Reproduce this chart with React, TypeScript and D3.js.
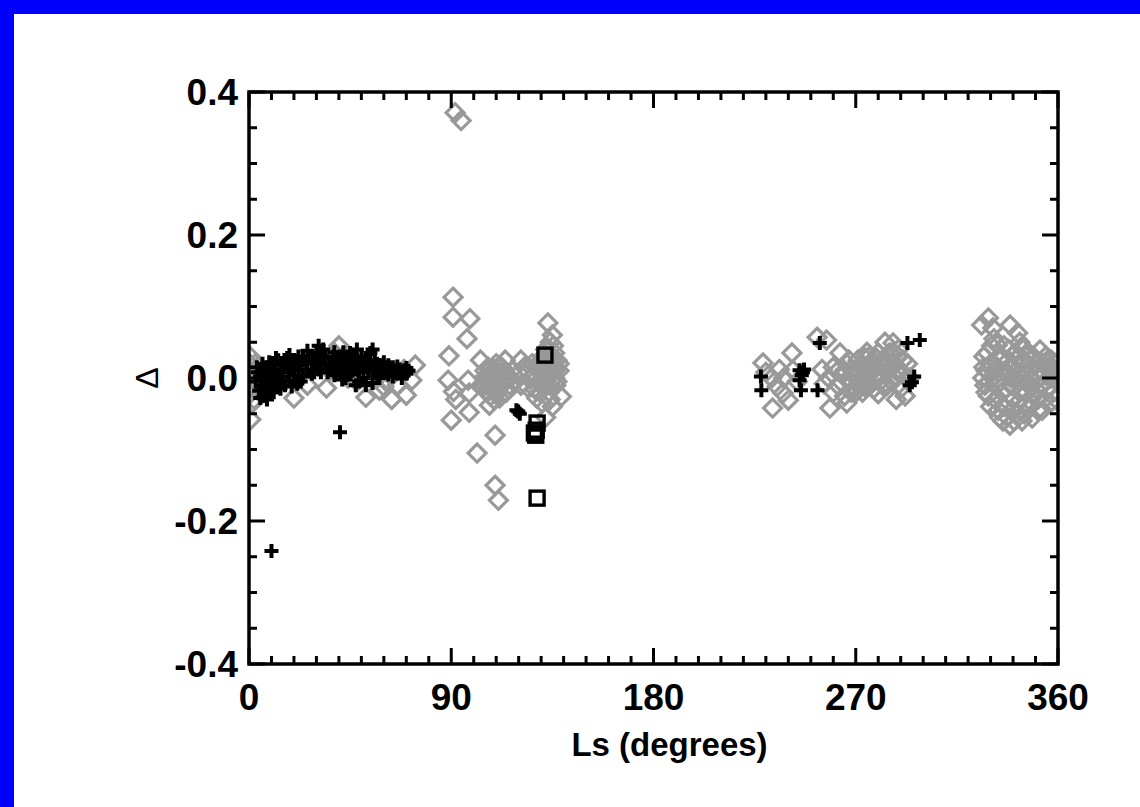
import React from "react";
import * as d3 from "d3";

// ---- data (Ls in degrees, Δ) ----
const diamondsLs: number[] = [
  0.5, 1, 0.8, 1.2, 0.5, 1.5, 0.8, 2, 2.5, 1.8, 3, 2.2, 3.5,
  20, 34.5, 40, 38, 42, 36, 52, 58, 60, 63.5, 66, 70, 72.5, 74, 69, 64, 61, 57, 15, 26, 44, 48,
  91.7, 94.4,
  90.8, 90.8, 98.3, 97, 89, 88.6, 91, 92, 97.5, 98, 98, 90, 103, 104, 107, 109.5, 101.5, 109.5, 111,
  105, 106, 107, 108, 108.5, 109, 110, 110.5, 111, 112, 112.5, 113, 107.5, 109, 111.5, 106, 104.5,
  114, 115, 116, 117, 118, 120, 122.5, 124, 121, 121,
  133, 135, 134, 132,
  126, 127, 128, 129, 130, 131, 132, 133, 134, 135, 136, 137, 138, 136.5, 129.5, 127, 133.5, 131,
  139, 135, 132, 128, 125, 130.5, 134,
  105, 106.5, 108, 109.5, 110, 111, 112, 113.5, 114.5, 128, 129, 130, 131, 132, 133, 134, 135, 136, 137, 138, 136, 135.5,
  228.7, 232.6, 241.6, 242, 233, 237.6, 240, 235, 230, 238, 244, 236,
  252.8, 257, 255, 258.5, 256, 263, 260, 262,
  258, 260, 262, 264, 265, 266, 267, 268, 269, 270, 271, 272, 273, 274, 275, 275.5, 276, 277, 278, 279,
  280, 281, 282, 283, 283.5, 284, 285, 286, 286.6, 287, 288, 289, 290, 291, 292, 293, 294, 266, 270, 288, 280, 276,
  265, 267, 268, 270, 271, 272, 273, 274, 275, 277, 278, 279, 280, 281, 282, 284, 285, 287, 288, 289, 290, 291,
  326, 329, 331, 338.7, 342, 343, 333, 327, 328, 327.5, 329, 330, 331, 332, 333, 334, 334.5, 335, 336, 336.5,
  337, 338, 338.6, 339, 340, 341, 341.5, 342, 343, 343.5, 344, 345, 345.5, 346, 347, 348, 348.5, 349, 350, 351,
  352, 352.5, 353, 354, 355, 356, 357, 358, 358.5, 359.5, 330.5, 335.5, 344.5, 339.5,
  328.5, 330, 331.5, 332, 333.5, 334, 335, 336, 337, 337.5, 338, 339, 340, 340.5, 341, 342, 342.5, 343, 344, 345,
  345, 346, 347, 347.5, 348, 349, 350, 350.5, 351, 352, 353, 354, 354.5, 355, 356, 356.5, 357, 358, 359, 359,
  326.5, 327, 328, 329.5,
];
const diamondsDelta: number[] = [
  0.03, 0.018, 0.005, -0.01, -0.022, -0.035, -0.058, 0.01, -0.005, -0.015, 0.02, -0.03, 0.0,
  -0.028, -0.014, 0.045, 0.035, 0.03, 0.01, -0.027, -0.017, -0.012, -0.03, -0.01, -0.024, -0.003, 0.018, 0.012, 0.005, -0.005, 0.0, 0.0, -0.01, 0.0, -0.005,
  0.371, 0.36,
  0.113, 0.085, 0.083, 0.055, 0.031, -0.003, -0.019, -0.03, -0.003, -0.021, -0.048, -0.059, 0.025, -0.013, -0.038, -0.08, -0.105, -0.15, -0.171,
  0.01, 0.0, -0.01, 0.005, -0.015, 0.012, -0.005, -0.02, 0.008, -0.01, 0.015, -0.003, -0.025, -0.03, -0.028, -0.02, 0.0,
  0.025, 0.0, -0.01, 0.01, -0.005, 0.007, 0.015, -0.013, -0.01, 0.025,
  0.077, 0.06, 0.05, 0.04,
  0.02, 0.005, 0.015, -0.005, 0.025, 0.01, -0.01, 0.02, 0.005, 0.015, 0.0, 0.025, 0.01, -0.01, -0.02, -0.015, -0.02, 0.03,
  -0.026, -0.04, -0.055, -0.028, -0.002, -0.035, -0.03,
  -0.01, 0.015, -0.005, 0.0, 0.02, -0.015, 0.0, 0.01, -0.02, 0.0, 0.02, -0.01, 0.015, 0.005, 0.03, -0.01, 0.025, 0.01, -0.005, 0.02, 0.035, 0.045,
  0.021, 0.0, 0.035, 0.011, -0.042, -0.021, -0.031, -0.012, 0.008, 0.0, -0.005, 0.012,
  0.057, 0.053, 0.012, -0.042, -0.008, 0.035, -0.02, 0.01,
  0.0, 0.015, -0.01, 0.005, -0.025, 0.02, -0.005, 0.012, -0.015, 0.008, 0.025, -0.002, 0.015, -0.012, 0.036, 0.005, 0.02, -0.008, 0.012, 0.028,
  0.0, 0.018, -0.01, 0.05, 0.025, 0.008, 0.035, -0.005, 0.049, 0.02, 0.01, 0.03, -0.015, 0.005, -0.025, 0.02, 0.0, -0.035, -0.02, -0.03, -0.022, 0.03,
  0.01, 0.025, -0.02, 0.0, -0.01, 0.018, -0.02, 0.028, -0.005, 0.02, -0.015, 0.005, 0.035, -0.005, 0.025, -0.01, 0.015, 0.035, 0.0, 0.04, 0.01, 0.025,
  0.074, 0.084, 0.07, 0.074, 0.063, 0.05, 0.046, 0.03, 0.01, -0.01, -0.025, 0.02, 0.0, -0.03, 0.015, -0.055, -0.005, 0.03, -0.04, 0.01,
  -0.015, 0.025, -0.066, 0.0, -0.03, 0.035, -0.05, 0.005, -0.02, 0.022, -0.06, 0.0, -0.035, 0.03, -0.01, 0.015, -0.056, -0.025, 0.005, -0.045,
  0.039, -0.01, 0.02, -0.03, 0.023, 0.0, 0.0, -0.02, 0.01, -0.005, 0.045, -0.06, 0.04, -0.045,
  0.035, -0.04, 0.055, 0.01, -0.045, 0.025, -0.02, 0.045, 0.005, -0.055, 0.04, -0.01, 0.015, -0.06, 0.0, -0.035, 0.03, -0.005, 0.01, 0.025,
  -0.05, -0.02, 0.035, -0.04, 0.0, 0.03, -0.015, 0.02, -0.03, 0.01, -0.045, 0.005, 0.03, -0.015, 0.015, -0.035, 0.025, 0.005, -0.03, 0.02,
  0.0, 0.015, -0.02, -0.005,
];

const plusLs: number[] = [
  40.5, 10,
  3, 4, 4.5, 5, 5.5, 6, 6.5, 7, 7.5, 8, 8.5, 9, 9.5, 10, 10.5, 11, 11.5, 12, 12.5, 13, 13.5, 14, 15, 15.5, 16,
  17, 17.5, 18, 19, 20, 21, 21.5, 22, 23, 24, 25, 26, 27, 28, 29, 30, 31, 32, 33, 34, 35, 37, 37.5, 38, 39,
  40, 41, 41.5, 42, 43, 44, 45, 46, 47, 47.5, 48, 49, 50, 51, 52, 53, 54, 55, 55.5, 56, 57, 58, 59, 60, 61,
  62, 63, 64, 65, 66, 67, 68, 69, 70,
  3.5, 5, 6, 8, 9, 11, 12, 14, 16, 18, 19, 20, 22, 23, 24, 26, 28, 29, 30, 31, 32, 33, 34, 36,
  38, 39, 40, 42, 43, 44, 45, 46, 48, 49, 50, 51, 52, 53, 55, 57, 58, 60, 62, 64, 66, 68, 70, 71,
  119, 120.5, 119.8,
  227.8, 228, 245, 247, 245, 246, 245.6, 253, 254, 293, 298.5, 296, 295, 294, 246.5,
];
const plusDelta: number[] = [
  -0.076, -0.242,
  -0.005, 0.008, -0.018, 0.002, -0.012, 0.012, -0.025, -0.004, 0.006, -0.016, 0.015, -0.008, 0.002, -0.02, 0.01, -0.003, 0.018, -0.012, 0.005, 0.025, -0.006, 0.012, 0.002, 0.02, -0.01,
  0.028, 0.008, -0.004, 0.015, 0.004, 0.022, -0.008, 0.01, 0.018, 0.002, 0.024, 0.012, 0.03, 0.006, 0.02, 0.035, 0.012, 0.026, 0.03, 0.018, 0.008, 0.015, 0.03, 0.004, 0.02,
  0.03, 0.01, -0.002, 0.024, 0.014, 0.03, 0.005, 0.022, 0.015, -0.01, 0.026, 0.008, 0.018, 0.0, 0.02, 0.01, 0.035, -0.007, 0.015, 0.025, 0.005, 0.018, 0.012, 0.008, 0.014,
  0.005, 0.012, 0.002, 0.01, 0.006, 0.012, 0.008, 0.011, 0.006,
  0.015, -0.028, 0.02, -0.03, 0.022, -0.02, 0.028, -0.015, 0.025, 0.032, -0.012, 0.025, 0.03, -0.005, 0.03, 0.038, 0.022, 0.008, 0.02, 0.045, 0.008, 0.04, 0.028, 0.02,
  0.036, 0.01, 0.018, 0.036, 0.0, 0.018, 0.035, 0.01, 0.04, -0.005, 0.03, 0.015, -0.01, 0.025, 0.04, 0.02, 0.0, 0.022, 0.018, 0.015, 0.016, 0.0, 0.014, 0.01,
  -0.045, -0.05, -0.047,
  0.002, -0.017, 0.011, 0.012, -0.003, 0.004, -0.017, -0.017, 0.049, 0.049, 0.053, 0.002, -0.006, -0.01, 0.008,
];

const squareLs: number[] = [131.7, 128.2, 127, 127.6, 127.8, 128.2];
const squareDelta: number[] = [0.032, -0.063, -0.077, -0.08, -0.073, -0.168];

const xTickValues: number[] = [0, 90, 180, 270, 360];
const xTickLabels: string[] = ["0", "90", "180", "270", "360"];
const yTickValues: number[] = [-0.4, -0.2, 0, 0.2, 0.4];
const yTickLabels: string[] = ["-0.4", "-0.2", "0.0", "0.2", "0.4"];

const xTitle = "Ls (degrees)";
const yTitle = "Δ";

export default function App() {
  const W = 1140;
  const H = 807;
  const left = 249, right = 1058, top = 92, bottom = 664;
  const x = d3.scaleLinear().domain([0, 360]).range([left, right]);
  const y = d3.scaleLinear().domain([-0.4, 0.4]).range([bottom, top]);
  const xMinor = d3.range(0, 361, 10);
  const yMinor = d3.range(-0.4, 0.4001, 0.05);
  const font = "'Liberation Sans', Arial, Helvetica, sans-serif";
  const gray = "#999999";
  const majLen = 16, minLen = 8;
  const dr = 9; // diamond half-diagonal
  const pr = 7; // plus half-length
  const sq = 14; // square size

  return (
    <div style={{ position: "absolute", left: 0, top: 0 }}>
      <svg width={W} height={H} style={{ display: "block" }}>
        <rect x={0} y={0} width={W} height={H} fill="#0000ff" />
        <rect x={14} y={14} width={W - 14} height={H - 14} fill="#ffffff" />
        <defs>
          <clipPath id="plotclip">
            <rect x={left} y={top} width={right - left} height={bottom - top} />
          </clipPath>
        </defs>
        <g clipPath="url(#plotclip)">
          {diamondsLs.map((ls, i) => (
            <path
              key={"d" + i}
              transform={`translate(${x(ls)},${y(diamondsDelta[i])})`}
              d={`M0,${-dr}L${dr},0L0,${dr}L${-dr},0Z`}
              fill="none"
              stroke={gray}
              strokeWidth={3.2}
            />
          ))}
          {plusLs.map((ls, i) => (
            <path
              key={"p" + i}
              transform={`translate(${x(ls)},${y(plusDelta[i])})`}
              d={`M${-pr},0H${pr}M0,${-pr}V${pr}`}
              fill="none"
              stroke="#000"
              strokeWidth={4}
            />
          ))}
          {squareLs.map((ls, i) => (
            <rect
              key={"s" + i}
              x={x(ls) - sq / 2}
              y={y(squareDelta[i]) - sq / 2}
              width={sq}
              height={sq}
              fill="none"
              stroke="#000"
              strokeWidth={3.4}
            />
          ))}
        </g>
        {/* ticks */}
        <g stroke="#000" strokeWidth={3}>
          {xMinor.map((v, i) => {
            const isMaj = i % 9 === 0;
            const L = isMaj ? majLen : minLen;
            return (
              <g key={"xt" + i}>
                <line x1={x(v)} x2={x(v)} y1={bottom} y2={bottom - L} />
                <line x1={x(v)} x2={x(v)} y1={top} y2={top + L} />
              </g>
            );
          })}
          {yMinor.map((v, i) => {
            const isMaj = i % 4 === 0;
            const L = isMaj ? majLen : minLen;
            return (
              <g key={"yt" + i}>
                <line x1={left} x2={left + L} y1={y(v)} y2={y(v)} />
                <line x1={right} x2={right - L} y1={y(v)} y2={y(v)} />
              </g>
            );
          })}
        </g>
        <rect x={left} y={top} width={right - left} height={bottom - top} fill="none" stroke="#000" strokeWidth={3.5} />
        {/* labels */}
        <g fontFamily={font} fontWeight="bold" fill="#000">
          {xTickValues.map((v, i) => (
            <text key={"xl" + i} x={x(v)} y={710} textAnchor="middle" fontSize={37}>
              {xTickLabels[i]}
            </text>
          ))}
          {yTickValues.map((v, i) => (
            <text key={"yl" + i} x={238} y={y(v)} dy="0.36em" textAnchor="end" fontSize={37}>
              {yTickLabels[i]}
            </text>
          ))}
          <text x={x(180) + 16} y={756} textAnchor="middle" fontSize={33}>
            {xTitle}
          </text>
          <text
            transform={`translate(158,${y(0)}) rotate(-90)`}
            textAnchor="middle"
            fontSize={32}
            fontWeight="normal"
          >
            {yTitle}
          </text>
        </g>
      </svg>
    </div>
  );
}
